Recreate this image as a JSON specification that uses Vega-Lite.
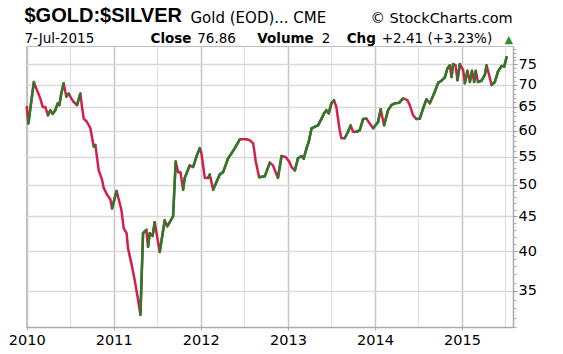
{
  "$schema": "https://vega.github.io/schema/vega-lite/v6.json",
  "width": 487,
  "height": 281,
  "autosize": "none",
  "padding": {"left": 26, "top": 46, "right": 50, "bottom": 27},
  "background": "white",
  "title": {
    "text": "$GOLD:$SILVER",
    "subtitle": "7-Jul-2015\u00a0\u00a0\u00a0\u00a0\u00a0\u00a0\u00a0\u00a0\u00a0\u00a0\u00a0\u00a0\u00a0\u00a0\u00a0\u00a0\u00a0\u00a0\u00a0\u00a0\u00a0\u00a0\u00a0\u00a076.86\u00a0\u00a0\u00a0\u00a0\u00a0\u00a0\u00a0\u00a0\u00a0\u00a0\u00a0\u00a0\u00a0\u00a0\u00a0\u00a0\u00a0\u00a0\u00a0\u00a02\u00a0\u00a0\u00a0\u00a0\u00a0\u00a0\u00a0\u00a0\u00a0\u00a0\u00a0\u00a0+2.41 (+3.23%)",
    "anchor": "start",
    "frame": "group",
    "dx": -1.5,
    "offset": -35.5,
    "font": "Liberation Sans",
    "fontSize": 20,
    "fontWeight": "bold",
    "color": "#000000",
    "subtitleFont": "DejaVu Sans",
    "subtitleFontSize": 13.5,
    "subtitleColor": "#000000",
    "subtitlePadding": 6
  },
  "data": {
    "format": {"parse": {"date": "date"}},
    "values": [
      {"date": "2010-01-01", "v": 65.0},
      {"date": "2010-01-08", "v": 61.5},
      {"date": "2010-01-31", "v": 70.7},
      {"date": "2010-02-13", "v": 68.8},
      {"date": "2010-02-27", "v": 66.9},
      {"date": "2010-03-09", "v": 65.0},
      {"date": "2010-03-20", "v": 65.0},
      {"date": "2010-03-31", "v": 63.2},
      {"date": "2010-04-10", "v": 64.3},
      {"date": "2010-04-20", "v": 63.5},
      {"date": "2010-05-01", "v": 64.3},
      {"date": "2010-05-11", "v": 65.8},
      {"date": "2010-05-18", "v": 65.4},
      {"date": "2010-05-26", "v": 68.0},
      {"date": "2010-06-05", "v": 70.4},
      {"date": "2010-06-16", "v": 67.3},
      {"date": "2010-06-26", "v": 68.0},
      {"date": "2010-07-07", "v": 66.9},
      {"date": "2010-07-17", "v": 66.1},
      {"date": "2010-07-31", "v": 65.4},
      {"date": "2010-08-14", "v": 68.0},
      {"date": "2010-08-21", "v": 65.0},
      {"date": "2010-08-28", "v": 62.5},
      {"date": "2010-09-11", "v": 61.8},
      {"date": "2010-09-25", "v": 60.5},
      {"date": "2010-10-09", "v": 56.9},
      {"date": "2010-10-16", "v": 57.2},
      {"date": "2010-10-30", "v": 52.5},
      {"date": "2010-11-13", "v": 50.9},
      {"date": "2010-11-20", "v": 49.5},
      {"date": "2010-12-04", "v": 48.4},
      {"date": "2010-12-18", "v": 47.6},
      {"date": "2010-12-25", "v": 46.2},
      {"date": "2011-01-13", "v": 49.0},
      {"date": "2011-02-02", "v": 46.0},
      {"date": "2011-02-12", "v": 43.2},
      {"date": "2011-02-24", "v": 42.5},
      {"date": "2011-03-02", "v": 40.4},
      {"date": "2011-03-16", "v": 38.4},
      {"date": "2011-03-30", "v": 36.3},
      {"date": "2011-04-13", "v": 34.0},
      {"date": "2011-04-23", "v": 32.3},
      {"date": "2011-05-04", "v": 42.5},
      {"date": "2011-05-18", "v": 43.0},
      {"date": "2011-05-25", "v": 40.6},
      {"date": "2011-06-01", "v": 42.5},
      {"date": "2011-06-13", "v": 42.1},
      {"date": "2011-06-22", "v": 44.1},
      {"date": "2011-07-13", "v": 39.9},
      {"date": "2011-08-03", "v": 44.4},
      {"date": "2011-08-13", "v": 43.5},
      {"date": "2011-08-24", "v": 44.1},
      {"date": "2011-09-07", "v": 45.0},
      {"date": "2011-09-18", "v": 54.1},
      {"date": "2011-09-28", "v": 52.2},
      {"date": "2011-10-08", "v": 52.2},
      {"date": "2011-10-19", "v": 49.2},
      {"date": "2011-10-26", "v": 51.2},
      {"date": "2011-11-16", "v": 53.4},
      {"date": "2011-11-30", "v": 53.1},
      {"date": "2011-12-14", "v": 55.0},
      {"date": "2011-12-28", "v": 56.6},
      {"date": "2012-01-04", "v": 55.6},
      {"date": "2012-01-18", "v": 51.2},
      {"date": "2012-02-01", "v": 51.2},
      {"date": "2012-02-08", "v": 51.8},
      {"date": "2012-02-22", "v": 49.2},
      {"date": "2012-03-07", "v": 50.5},
      {"date": "2012-03-21", "v": 51.8},
      {"date": "2012-04-04", "v": 52.2},
      {"date": "2012-04-25", "v": 54.7},
      {"date": "2012-05-09", "v": 55.6},
      {"date": "2012-05-23", "v": 56.6},
      {"date": "2012-06-13", "v": 58.3},
      {"date": "2012-07-11", "v": 58.3},
      {"date": "2012-07-25", "v": 58.1},
      {"date": "2012-08-08", "v": 57.5},
      {"date": "2012-08-19", "v": 54.1},
      {"date": "2012-09-02", "v": 51.3},
      {"date": "2012-09-26", "v": 51.5},
      {"date": "2012-10-17", "v": 53.9},
      {"date": "2012-10-30", "v": 53.4},
      {"date": "2012-11-14", "v": 51.8},
      {"date": "2012-11-20", "v": 51.2},
      {"date": "2012-12-05", "v": 55.1},
      {"date": "2012-12-23", "v": 54.9},
      {"date": "2013-01-06", "v": 54.1},
      {"date": "2013-01-16", "v": 53.1},
      {"date": "2013-01-30", "v": 52.5},
      {"date": "2013-02-12", "v": 54.7},
      {"date": "2013-02-27", "v": 55.1},
      {"date": "2013-03-08", "v": 54.6},
      {"date": "2013-03-20", "v": 56.6},
      {"date": "2013-03-29", "v": 57.8},
      {"date": "2013-04-10", "v": 60.5},
      {"date": "2013-04-23", "v": 60.8},
      {"date": "2013-05-07", "v": 61.1},
      {"date": "2013-05-22", "v": 62.5},
      {"date": "2013-06-01", "v": 63.6},
      {"date": "2013-06-11", "v": 64.3},
      {"date": "2013-06-21", "v": 63.6},
      {"date": "2013-07-02", "v": 65.8},
      {"date": "2013-07-13", "v": 66.5},
      {"date": "2013-07-23", "v": 65.0},
      {"date": "2013-08-06", "v": 60.1},
      {"date": "2013-08-13", "v": 58.5},
      {"date": "2013-08-27", "v": 58.5},
      {"date": "2013-09-10", "v": 59.8},
      {"date": "2013-09-21", "v": 61.1},
      {"date": "2013-10-01", "v": 59.8},
      {"date": "2013-10-15", "v": 59.8},
      {"date": "2013-10-29", "v": 60.1},
      {"date": "2013-11-12", "v": 62.4},
      {"date": "2013-11-26", "v": 62.5},
      {"date": "2013-12-10", "v": 61.5},
      {"date": "2013-12-24", "v": 60.5},
      {"date": "2014-01-14", "v": 61.8},
      {"date": "2014-01-25", "v": 64.5},
      {"date": "2014-02-08", "v": 61.1},
      {"date": "2014-02-25", "v": 64.3},
      {"date": "2014-03-11", "v": 65.4},
      {"date": "2014-03-25", "v": 65.8},
      {"date": "2014-04-12", "v": 65.9},
      {"date": "2014-04-29", "v": 66.9},
      {"date": "2014-05-17", "v": 66.5},
      {"date": "2014-05-27", "v": 65.4},
      {"date": "2014-06-10", "v": 63.2},
      {"date": "2014-06-24", "v": 62.4},
      {"date": "2014-07-08", "v": 62.5},
      {"date": "2014-07-22", "v": 64.7},
      {"date": "2014-08-05", "v": 66.7},
      {"date": "2014-08-19", "v": 65.8},
      {"date": "2014-09-06", "v": 68.0},
      {"date": "2014-09-23", "v": 70.5},
      {"date": "2014-10-07", "v": 71.0},
      {"date": "2014-10-21", "v": 71.8},
      {"date": "2014-11-01", "v": 74.0},
      {"date": "2014-11-11", "v": 74.8},
      {"date": "2014-11-18", "v": 71.9},
      {"date": "2014-11-25", "v": 75.1},
      {"date": "2014-12-05", "v": 74.8},
      {"date": "2014-12-13", "v": 71.1},
      {"date": "2014-12-23", "v": 75.1},
      {"date": "2015-01-06", "v": 73.6},
      {"date": "2015-01-13", "v": 70.4},
      {"date": "2015-01-24", "v": 73.4},
      {"date": "2015-02-03", "v": 70.7},
      {"date": "2015-02-12", "v": 73.4},
      {"date": "2015-02-21", "v": 70.7},
      {"date": "2015-02-28", "v": 73.4},
      {"date": "2015-03-09", "v": 70.7},
      {"date": "2015-03-24", "v": 71.0},
      {"date": "2015-04-07", "v": 72.4},
      {"date": "2015-04-14", "v": 74.8},
      {"date": "2015-04-23", "v": 72.8},
      {"date": "2015-05-05", "v": 70.0},
      {"date": "2015-05-19", "v": 70.7},
      {"date": "2015-06-01", "v": 73.2},
      {"date": "2015-06-16", "v": 74.6},
      {"date": "2015-06-27", "v": 74.45},
      {"date": "2015-07-07", "v": 76.86}
    ]
  },
  "layer": [
    {
      "mark": {"type": "line", "color": "#d21f4c", "strokeWidth": 2.5, "strokeJoin": "round", "strokeCap": "round"},
      "encoding": {
        "x": {
          "field": "date", "type": "temporal",
          "scale": {"domain": [{"year": 2009, "month": 12, "date": 29}, {"year": 2015, "month": 8, "date": 3}]},
          "axis": {
            "orient": "bottom",
            "values": [{"year": 2010, "month": 7, "date": 1}, {"year": 2011, "month": 7, "date": 1}, {"year": 2012, "month": 7, "date": 1}, {"year": 2013, "month": 7, "date": 1}, {"year": 2014, "month": 7, "date": 1}, {"year": 2015, "month": 7, "date": 1}],
            "labels": false, "ticks": false, "domain": false,
            "grid": true, "gridColor": "#dedede", "gridWidth": 1.2,
            "title": "▲", "titleX": 478, "titleY": -284.5,
            "titleAlign": "left", "titleAnchor": "start", "titleBaseline": "alphabetic",
            "titleColor": "#2f8f2f", "titleFont": "DejaVu Sans", "titleFontSize": 11, "titleFontWeight": "normal"
          }
        },
        "y": {
          "field": "v", "type": "quantitative",
          "scale": {"type": "log", "domain": [31, 79.8], "nice": false},
          "axis": {
            "orient": "right",
            "values": [31, 32, 33, 34, 35, 36, 37, 38, 39, 40, 41, 42, 43, 44, 45, 46, 47, 48, 49, 50, 51, 52, 53, 54, 55, 56, 57, 58, 59, 60, 61, 62, 63, 64, 65, 66, 67, 68, 69, 70, 71, 72, 73, 74, 75, 76, 77, 78, 79],
            "labels": false, "domain": false, "grid": false,
            "ticks": true, "tickSize": 3, "tickColor": "#b0b0b0",
            "title": "© StockCharts.com", "titleAngle": 0, "titleX": -143, "titleY": -24,
            "titleAlign": "left", "titleAnchor": "start", "titleBaseline": "alphabetic",
            "titleFont": "DejaVu Sans", "titleFontSize": 14.5, "titleFontWeight": "normal", "titleColor": "#000000"
          }
        }
      }
    },
    {
      "transform": [
        {"window": [{"op": "lag", "field": "date", "as": "pdate"}, {"op": "lag", "field": "v", "as": "pv"}], "sort": [{"field": "date", "order": "ascending"}]},
        {"filter": "datum.pv != null && datum.v > datum.pv"}
      ],
      "mark": {"type": "rule", "color": "#267d26", "strokeWidth": 2.5, "strokeCap": "round"},
      "encoding": {
        "x": {
          "field": "date", "type": "temporal",
          "scale": {"domain": [{"year": 2009, "month": 12, "date": 29}, {"year": 2015, "month": 8, "date": 3}]},
          "axis": {
            "orient": "bottom",
            "values": [{"year": 2010, "month": 1, "date": 1}, {"year": 2011, "month": 1, "date": 1}, {"year": 2012, "month": 1, "date": 1}, {"year": 2013, "month": 1, "date": 1}, {"year": 2014, "month": 1, "date": 1}, {"year": 2015, "month": 1, "date": 1}],
            "format": "%Y",
            "labelFont": "DejaVu Sans", "labelFontSize": 14.5, "labelColor": "#000000",
            "labelFlush": false, "labelOverlap": false, "labelPadding": 3,
            "tickSize": 3, "tickColor": "#aaaaaa",
            "domainColor": "#aaaaaa", "domainWidth": 1.5,
            "grid": true, "gridColor": "#c6c6c6", "gridWidth": 1.5,
            "title": "Close\u00a0\u00a0\u00a0\u00a0\u00a0\u00a0\u00a0\u00a0\u00a0\u00a0\u00a0\u00a0\u00a0\u00a0Volume\u00a0\u00a0\u00a0\u00a0\u00a0\u00a0\u00a0Chg",
            "titleX": 124, "titleY": -284.5,
            "titleAlign": "left", "titleAnchor": "start", "titleBaseline": "alphabetic",
            "titleFont": "DejaVu Sans", "titleFontSize": 13.5, "titleFontWeight": "bold", "titleColor": "#000000"
          }
        },
        "x2": {"field": "pdate"},
        "y": {
          "field": "v", "type": "quantitative",
          "scale": {"type": "log", "domain": [31, 79.8], "nice": false},
          "axis": {
            "orient": "right",
            "values": [35, 40, 45, 50, 55, 60, 65, 70, 75],
            "grid": true, "gridColor": "#d9d9d9", "gridWidth": 1.5,
            "tickSize": 4, "tickColor": "#999999",
            "domainColor": "#aaaaaa", "domainWidth": 1.5,
            "labelFont": "DejaVu Sans", "labelFontSize": 14.5, "labelColor": "#000000",
            "labelPadding": 1, "labelFlush": false, "labelOverlap": false,
            "title": "Gold (EOD)... CME", "titleAngle": 0, "titleX": -323, "titleY": -24,
            "titleAlign": "left", "titleAnchor": "start", "titleBaseline": "alphabetic",
            "titleFont": "DejaVu Sans", "titleFontSize": 15, "titleFontWeight": "normal", "titleColor": "#000000"
          }
        },
        "y2": {"field": "pv"}
      }
    }
  ],
  "resolve": {"axis": {"x": "independent", "y": "independent"}},
  "config": {
    "view": {"stroke": "#bdbdbd", "strokeWidth": 1}
  }
}
